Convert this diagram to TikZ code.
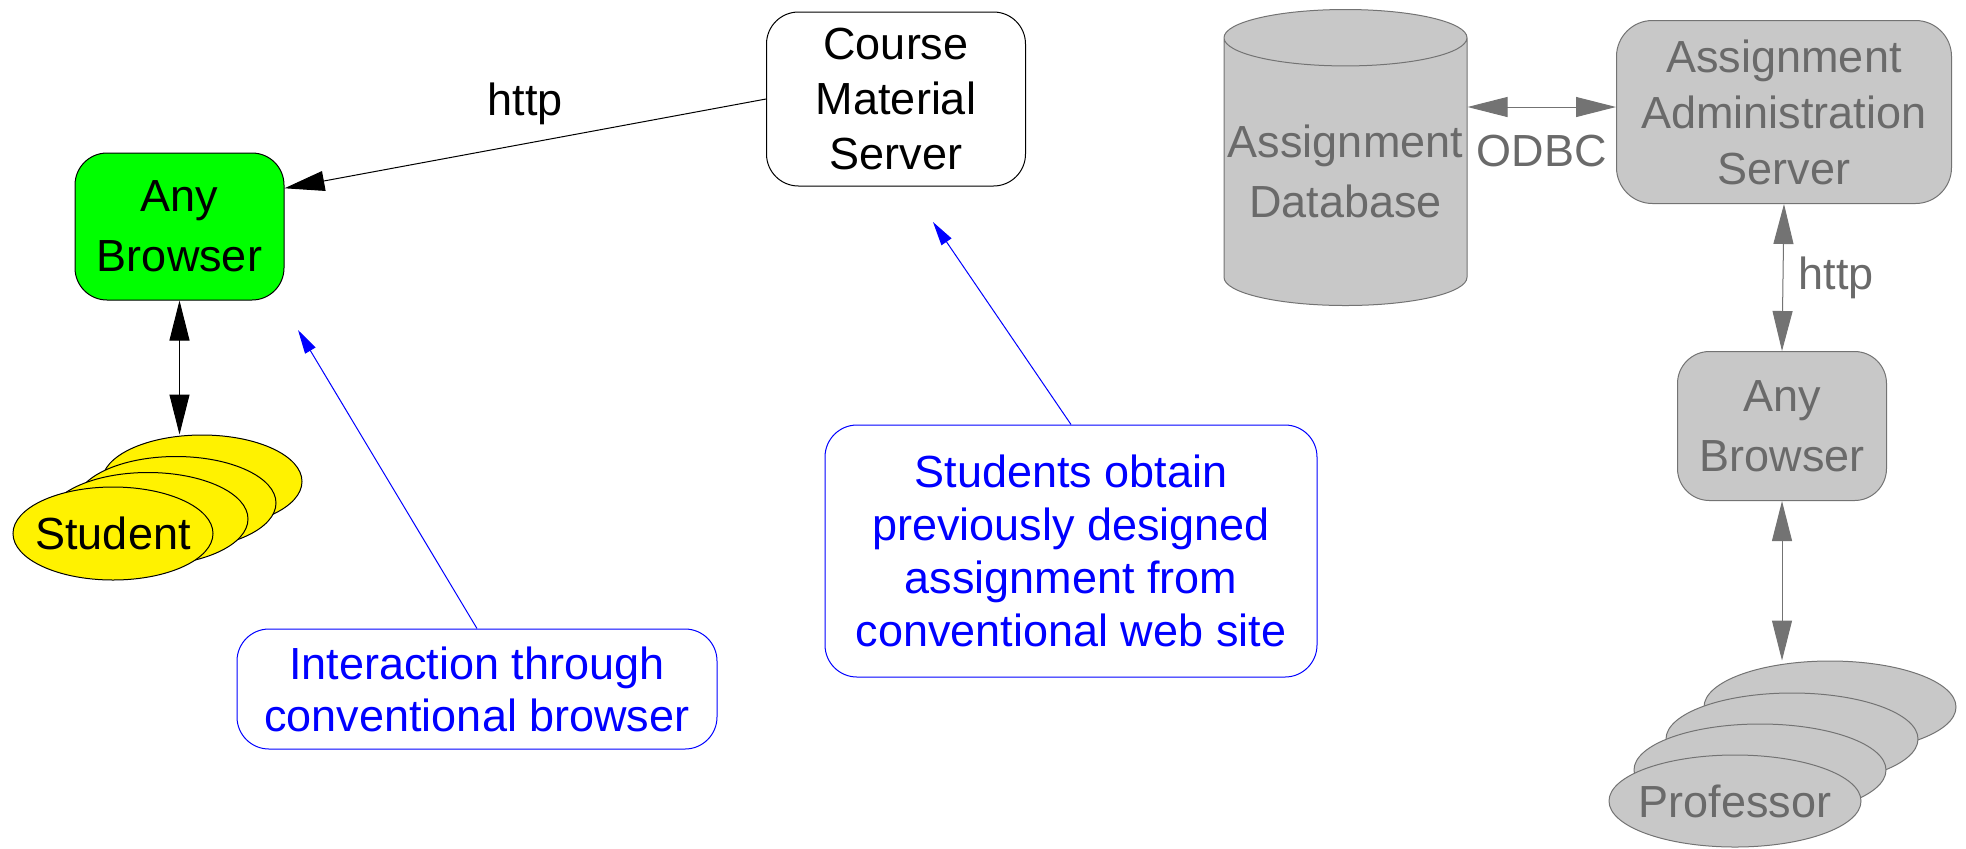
\documentclass[tikz,border=0pt]{standalone}
\usepackage{fontspec}
\setmainfont{Liberation Sans}
\usepackage{xcolor}
\usepackage{tikz}
\usetikzlibrary{shapes.geometric}
\usetikzlibrary{arrows.meta}

\definecolor{greyfill}{HTML}{C8C8C8}
\definecolor{greyline}{HTML}{737373}
\definecolor{greytext}{HTML}{6A6A6A}

\tikzset{
  lbl/.style={inner sep=0pt, font=\fontsize{22.5}{27}\selectfont},
  srvbox/.style={draw, line width=0.5pt, rounded corners=16pt, align=center, inner sep=0pt},
  greybox/.style={srvbox, draw=greyline, fill=greyfill, text=greytext},
  person/.style={ellipse, draw, line width=0.5pt, fill=yellow, minimum width=100pt, minimum height=46.5pt, inner sep=0pt},
  greyperson/.style={person, draw=greyline, fill=greyfill, minimum width=126pt, minimum height=46pt},
  dbase/.style={cylinder, shape border rotate=90, aspect=0.24, draw=greyline, line width=0.5pt, fill=greyfill, text=greytext,
    minimum width=121.5pt, minimum height=148pt, inner sep=0pt, align=center},
  notebox/.style={srvbox, draw=blue, text=blue},
  link/.style={line width=0.5pt},
  greylink/.style={link, draw=greyline, fill=greyline},
  notelink/.style={line width=0.5pt, blue, -{Triangle[length=12pt,width=6pt]}}
}

\begin{document}
\begin{tikzpicture}[x=0.5pt, y=-0.5pt, >={Triangle[length=20pt,width=10pt]}]
        \useasboundingbox (0,0) rectangle (1966,848);

        % student side
        \node[srvbox, fill=green, minimum width=104.5pt, minimum height=73.5pt, font=\fontsize{22.5}{30}\selectfont] (browser) at (179.5,226.5) {Any\\Browser};
        \node[srvbox, fill=white, minimum width=129.5pt, minimum height=87pt, font=\fontsize{22.5}{27.5}\selectfont] (course) at (896,99) {Course\\Material\\Server};

        \node[person] (stu4) at (202,481.5) {};
        \node[person] (stu3) at (176,503) {};
        \node[person] (stu2) at (148,519) {};
        \node[person, label={[lbl]center:Student}] (stu1) at (113,533.5) {};

        \draw[link, ->] (course.west) -- (browser.20) node[midway, above=9pt, lbl] {http};
        \draw[link, <->] (browser.south) -- (browser.south |- stu4.north);

        % professor side
        \node[dbase, anchor=shape center, font=\fontsize{22.5}{30}\selectfont] (db) at (1345.5,157.5) {Assignment\\Database};
        \node[greybox, rounded corners=18pt, minimum width=167.5pt, minimum height=91.5pt, font=\fontsize{22.5}{28}\selectfont] (admin) at (1784,112) {Assignment\\Administration\\Server};
        \node[greybox, minimum width=104.5pt, minimum height=74.5pt, font=\fontsize{22.5}{30}\selectfont] (pbrowser) at (1782,426) {Any\\Browser};

        \node[greyperson] (prof4) at (1830,707) {};
        \node[greyperson] (prof3) at (1792,739) {};
        \node[greyperson] (prof2) at (1760,770) {};
        \node[greyperson, label={[lbl, text=greytext]center:Professor}] (prof1) at (1735,801) {};

        \draw[greylink, <->] ([yshift=2.5pt]admin.west -| db.east) -- ([yshift=2.5pt]admin.west)
            node[midway, below=14pt, lbl, text=greytext] {ODBC};
        \draw[greylink, <->] (admin.south) -- (pbrowser.north)
            node[midway, right=7.5pt, lbl, text=greytext] {http};
        \draw[greylink, <->] (pbrowser.south) -- (pbrowser.south |- prof4.north);

        % notes
        \node[notebox, minimum width=246pt, minimum height=126pt, font=\fontsize{22.5}{26.5}\selectfont] (note1) at (1071,551) {Students obtain\\previously designed\\assignment from\\conventional web site};
        \node[notebox, minimum width=240pt, minimum height=60pt, font=\fontsize{22.5}{26}\selectfont] (note2) at (477,689) {Interaction through\\conventional browser};
        \coordinate (tip1) at (933,222);
        \coordinate (tip2) at (298,330);
        \draw[notelink] (note1.north) -- (tip1);
        \draw[notelink] (note2.north) -- (tip2);
\end{tikzpicture}
\end{document}
